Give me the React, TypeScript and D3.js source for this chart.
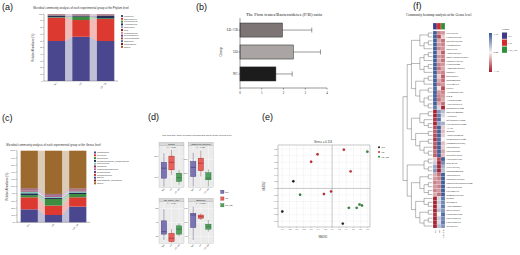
import React from "react";
import * as d3 from "d3";

const groups = ["NC", "LD", "LD_CB"];

// ---------- (a) phylum level ----------
const phyla = ["Firmicutes", "Bacteroidetes", "Proteobacteria", "Actinobacteria", "Tenericutes", "TM7", "Cyanobacteria", "Deferribacteres", "Verrucomicrobia", "Chloroflexi", "Spirochaetes", "Others"];
const phylaNC = [59.7, 34.8, 0.8, 2.2, 0.6, 0.4, 0.3, 0.2, 0.3, 0.2, 0.1, 0.4];
const phylaLD = [66.0, 25.0, 5.0, 1.2, 0.8, 0.5, 0.4, 0.3, 0.2, 0.2, 0.1, 0.3];
const phylaLDCB = [59.7, 32.8, 1.2, 3.3, 0.9, 0.6, 0.4, 0.3, 0.3, 0.2, 0.1, 0.2];
const phylaColors = ["#4b478e", "#dc3a30", "#3d8c3f", "#262c58", "#8b9cc9", "#8c2a2a", "#d98a9e", "#6a3d9a", "#b04a3a", "#4a5fa8", "#7a1c1c", "#a0522d"];

// ---------- (b) F/B ratio ----------
const fbGroups = ["LD+CB", "LD", "NC"];
const fbMean = [1.95, 2.45, 1.65];
const fbErr = [1.35, 1.25, 0.75];
const fbTicks = [0, 1, 2, 3, 4];

// ---------- (c) genus level ----------
const genusTop = ["Lactobacillus", "Prevotella", "Oscillospira", "Ruminococcaceae_Ruminococcus", "Coprococcus", "Roseburia", "Phascolarctobacterium", "Streptococcus", "[Ruminococcus]", "Blautia", "Clostridiaceae_Clostridium", "Others"];
const genusNC = [18.1, 16.8, 3.1, 2.5, 2.5, 1.2, 1.0, 0.8, 0.6, 0.5, 0.4, 52.5];
const genusLD = [10.2, 13.1, 9.3, 1.5, 1.2, 1.0, 1.3, 0.7, 0.5, 0.4, 0.4, 60.4];
const genusLDCB = [21.9, 13.0, 4.6, 2.0, 1.8, 1.2, 0.9, 0.6, 0.5, 0.3, 0.3, 52.9];
const genusColors = ["#4b478e", "#dc3a30", "#3d8c3f", "#262c58", "#7fc4b4", "#8c2340", "#b3669a", "#5c3c80", "#c0392b", "#3b4c9b", "#7a1c1c", "#9c6a2e"];

// ---------- (d) alpha diversity (min, q1, median, q3, max) ----------
const alphaIndices = ["Chao1", "Observed_species", "PD_whole_tree", "Shannon"];
const alphaDomains = [[500, 900], [400, 700], [30, 60], [4, 7]];
const alphaTicks = [[600, 800], [500, 600], [35, 45, 55], [4.5, 5.5, 6.5]];
const alphaNC = [[505, 588, 684, 740, 828], [406, 478, 544, 586, 649], [32.4, 36.6, 38.4, 46.2, 54.6], [4.24, 5.14, 6.04, 6.16, 6.64]];
const alphaLD = [[620, 668, 740, 800, 860], [478, 520, 574, 610, 664], [30.5, 31.2, 33.6, 37.2, 40.2], [5.68, 5.8, 5.92, 6.04, 6.16]];
const alphaLDCB = [[524, 556, 592, 636, 668], [406, 454, 466, 505, 529], [34.8, 36.6, 40.2, 42.6, 44.4], [4.84, 5.02, 5.2, 5.38, 5.68]];
const alphaP = ["p = 0.037", "p = 0.029", "p = 0.045", "p = 0.0065"];

// ---------- (e) NMDS ----------
const nmdsGroup = ["NC", "NC", "NC", "LD", "LD", "LD", "LD", "LD", "LD", "LD_CB", "LD_CB", "LD_CB", "LD_CB", "LD_CB", "LD_CB"];
const nmds1 = [-1.40, -1.09, 0.30, -0.41, -0.59, 0.33, 0.52, -0.23, -0.03, -0.90, 0.47, 0.69, 0.77, 0.84, 0.99];
const nmds2 = [-0.70, 0.22, -1.07, 1.04, 0.81, 1.18, 0.52, -0.17, -0.09, -0.19, -0.59, -0.59, -0.49, -0.52, 1.12];

// ---------- (f) heatmap ----------
const genera = ["Prevotella", "Coprococcus", "Streptococcus", "Lachnospira", "Sutterella", "Anaerostipes", "Macellibacteroides", "Paraprevotella", "Clostridium", "Aggregatibacter", "SMB53", "Roseburia", "Megamonas", "Veillonella", "Dorea", "Actinobacillus", "rc4-4", "Allobaculum", "Adlercreutzia", "Mogibacterium", "Butyricimonas", "Alistipes", "Bifidobacterium", "Corynebacterium", "AF12", "Blautia", "Anaerotruncus", "Dehalobacterium", "[Ruminococcus]", "Odoribacter", "Oscillospira", "Desulfovibrio", "Lactobacillus", "Rikenella", "[Prevotella]", "Sphingomonas", "Turicibacter", "Parabacteroides", "Phascolarctobacterium", "Enterococcus", "Collinsella", "Ruminococcus", "Rothia", "Bilophila", "Akkermansia", "Bacteroides", "Coprobacillus", "Oscillibacter", "Enterobacter", "Weissella"];
const hmNC = [1.1, 1.1, 1.1, 1.1, 1.1, 1.1, 1.1, 1.1, 1.1, 1.1, 1.1, 1.0, 1.1, 1.1, 1.0, 1.1, 1.1, 1.1, 1.1, 0.9, -1.1, -1.1, -1.0, -1.1, -0.9, -0.8, -0.9, -1.0, -0.8, -0.9, -0.7, -0.8, -0.2, 0.3, 0.6, 0.7, -0.4, -0.5, -0.6, -0.5, -0.6, -0.4, -1.1, -1.1, -1.1, -1.1, -1.0, -1.1, -1.1, -1.1];
const hmLD = [-0.6, -0.9, -0.4, -0.5, -0.6, -0.3, -0.5, -0.4, -0.6, -0.7, -0.5, -0.2, -0.4, -0.6, -0.1, -0.5, -0.6, -0.7, -0.4, 0.2, 0.7, 0.9, 1.0, 0.6, 1.1, 1.1, 1.1, 1.0, 1.1, 1.1, 1.1, 1.1, -0.9, -1.1, -1.1, -1.1, -0.7, -0.6, -0.5, -0.6, -0.5, -0.7, 0.2, 0.3, 0.2, 0.4, 0.0, 0.3, 0.2, 0.4];
const hmLDCB = [-0.5, -0.2, -0.7, -0.6, -0.5, -0.8, -0.6, -0.7, -0.5, -0.4, -0.6, -0.8, -0.7, -0.5, -0.9, -0.6, -0.5, -0.4, -0.7, -1.1, 0.4, 0.2, 0.0, 0.5, -0.2, -0.3, -0.2, 0.0, -0.3, -0.2, -0.4, -0.3, 1.1, 0.8, 0.5, 0.4, 1.1, 1.1, 1.1, 1.1, 1.1, 1.1, 0.9, 0.8, 0.9, 0.7, 1.0, 0.8, 0.9, 0.7];
const genusTree: any = [
  [
    [[[0, 1], [[2, 3], 4]], [[[5, 6], 7], [[8, 9], 10]], [[[11, 12], 13], [[14, 15], [[16, 17], [18, 19]]]]],
    [[[20, 21], [22, [23, 24]]], [[25, 26], [[27, 28], [29, [30, 31]]]]],
  ],
  [
    [[32, 33], [34, 35]],
    [[[36, 37], [[38, 39], [40, 41]]], [[42, [43, 44]], [[45, 46], [[47, 48], 49]]]],
  ],
];
const groupColors = ["#3f3a8c", "#d62a2a", "#2f8f3a"];

const SERIF = "Liberation Serif";
const SANS = "Liberation Sans";

function StackPanel(props: any) {
  const { keys, values, colors, left, right, top, bottom, title, pct, legendX, legendY, ylabelX } = props;
  const table = groups.map((g, i) => {
    const row: any = { group: g };
    keys.forEach((k: string, j: number) => (row[k] = values[i][j]));
    return row;
  });
  const series = d3.stack().keys(keys)(table);
  const x = d3.scaleBand().domain(groups).range([left, right]).paddingInner(0.29).paddingOuter(0.15);
  const y = d3.scaleLinear().domain([0, 100]).range([bottom, top]);
  const bw = x.bandwidth();
  return (
    <g fontFamily={SANS}>
      <text x={(left + right) / 2} y={top - 5} fontSize={2.8} textAnchor="middle" fill="#333">{title}</text>
      {series.map((s: any, si: number) => (
        <g key={si}>
          {[0, 1].map((i) => {
            const a = s[i], b = s[i + 1];
            const xa = x(groups[i])! + bw, xb = x(groups[i + 1])!;
            return (
              <path key={i} d={`M${xa},${y(a[1])}L${xb},${y(b[1])}L${xb},${y(b[0])}L${xa},${y(a[0])}Z`} fill={colors[si]} opacity={0.35} />
            );
          })}
          {s.map((d: any, i: number) => (
            <rect key={i} x={x(groups[i])} y={y(d[1])} width={bw} height={Math.max(0, y(d[0]) - y(d[1]))} fill={colors[si]} />
          ))}
        </g>
      ))}
      <line x1={left} x2={left} y1={top} y2={bottom} stroke="#555" strokeWidth={0.4} />
      <line x1={left} x2={right} y1={bottom} y2={bottom} stroke="#555" strokeWidth={0.4} />
      {y.ticks(10).map((t) => (
        <g key={t}>
          <line x1={left - 1} x2={left} y1={y(t)} y2={y(t)} stroke="#555" strokeWidth={0.3} />
          <text x={left - 1.5} y={y(t) + 0.7} fontSize={2.1} textAnchor="end" fill="#444">{pct ? `${t}%` : t}</text>
        </g>
      ))}
      {groups.map((g) => (
        <text key={g} transform={`translate(${x(g)! + bw / 2 + 1},${bottom + 2.5}) rotate(-45)`} fontSize={2.4} textAnchor="end" fill="#444">{g}</text>
      ))}
      <text transform={`translate(${ylabelX},${(top + bottom) / 2}) rotate(-90)`} fontSize={2.6} textAnchor="middle" fill="#333">Relative Abundance (%)</text>
      {keys.map((k: string, i: number) => (
        <g key={k}>
          <rect x={legendX} y={legendY + i * 2.8} width={2} height={2} fill={colors[i]} />
          <text x={legendX + 3} y={legendY + i * 2.8 + 1.7} fontSize={2.1} fill="#333">{k}</text>
        </g>
      ))}
    </g>
  );
}

function PanelB() {
  const x = d3.scaleLinear().domain([0, 4]).range([240, 327]);
  const y = d3.scaleBand().domain(fbGroups).range([16, 88]).paddingInner(0.36).paddingOuter(0.32);
  const fills = ["#7d7575", "#aaa4a4", "#1c1c1c"];
  const bw = y.bandwidth();
  return (
    <g fontFamily={SERIF} fill="#222">
      <text x={284} y={15.5} fontSize={4.6} textAnchor="middle">The Firm icutes/Bacteroidetes (F/B) ratio</text>
      {fbGroups.map((g, i) => {
        const y0 = y(g)!, cy = y0 + bw / 2;
        const xe = x(fbMean[i] + fbErr[i]);
        return (
          <g key={g}>
            <line x1={x(fbMean[i])} x2={xe} y1={cy} y2={cy} stroke="#555" strokeWidth={0.6} />
            <line x1={xe} x2={xe} y1={cy - 2.5} y2={cy + 2.5} stroke="#555" strokeWidth={0.6} />
            <rect x={x(0)} y={y0} width={x(fbMean[i]) - x(0)} height={bw} fill={fills[i]} stroke="#222" strokeWidth={0.5} />
            <line x1={x(0) - 1.5} x2={x(0)} y1={cy} y2={cy} stroke="#333" strokeWidth={0.5} />
            <text x={x(0) - 2.3} y={cy + 1.2} fontSize={3.4} textAnchor="end">{g}</text>
          </g>
        );
      })}
      <line x1={x(0)} x2={x(0)} y1={18} y2={88} stroke="#333" strokeWidth={0.5} />
      <line x1={x(0)} x2={x(4)} y1={88} y2={88} stroke="#333" strokeWidth={0.5} />
      {fbTicks.map((t) => (
        <g key={t}>
          <line x1={x(t)} x2={x(t)} y1={88} y2={89.5} stroke="#333" strokeWidth={0.5} />
          <text x={x(t)} y={93.5} fontSize={3.2} textAnchor="middle">{t}</text>
        </g>
      ))}
      <text transform="translate(222,52) rotate(-90)" fontSize={3.6} textAnchor="middle">Group</text>
    </g>
  );
}

function PanelD() {
  const facetCols = [159, 188.3];
  const facetRows = [142.3, 198.3];
  const facetW = 25, stripH = 3.4, panelH = 41.6;
  const fills = ["#7b74b3", "#e8605a", "#52a060"];
  const strokes = ["#3d3870", "#9a2a26", "#2a6a34"];
  const stats = [alphaNC, alphaLD, alphaLDCB];
  return (
    <g fontFamily={SANS}>
      <text x={197} y={136} fontSize={2.4} textAnchor="middle" fill="#333">The diversity index of each experimental group at the Genus level</text>
      {alphaIndices.map((name, k) => {
        const fx = facetCols[k % 2], fy = facetRows[Math.floor(k / 2)];
        const py0 = fy + stripH, py1 = py0 + panelH;
        const y = d3.scaleLinear().domain(alphaDomains[k]).range([py1, py0]);
        const x = d3.scaleBand().domain(groups).range([fx, fx + facetW]).padding(0.3);
        const bw = x.bandwidth();
        return (
          <g key={name}>
            <rect x={fx} y={fy} width={facetW} height={stripH} fill="#d9d9d9" stroke="#888" strokeWidth={0.2} />
            <text x={fx + facetW / 2} y={fy + 2.5} fontSize={2.3} textAnchor="middle" fill="#222">{name}</text>
            <rect x={fx} y={py0} width={facetW} height={panelH} fill="#ebebeb" stroke="#888" strokeWidth={0.2} />
            {alphaTicks[k].map((t) => (
              <g key={t}>
                <line x1={fx} x2={fx + facetW} y1={y(t)} y2={y(t)} stroke="#fff" strokeWidth={0.4} />
                <line x1={fx - 0.8} x2={fx} y1={y(t)} y2={y(t)} stroke="#555" strokeWidth={0.3} />
                <text x={fx - 1.2} y={y(t) + 0.7} fontSize={2} textAnchor="end" fill="#444">{t}</text>
              </g>
            ))}
            {groups.map((g) => (
              <line key={g} x1={x(g)! + bw / 2} x2={x(g)! + bw / 2} y1={py0} y2={py1} stroke="#fff" strokeWidth={0.4} />
            ))}
            <text x={fx + facetW / 2} y={py0 + 2.6} fontSize={2} textAnchor="middle" fill="#333">{alphaP[k]}</text>
            {groups.map((g, gi) => {
              const s = stats[gi][k];
              const cx = x(g)! + bw / 2;
              return (
                <g key={g}>
                  <line x1={cx} x2={cx} y1={y(s[0])} y2={y(s[4])} stroke={strokes[gi]} strokeWidth={0.4} />
                  <rect x={x(g)} y={y(s[3])} width={bw} height={y(s[1]) - y(s[3])} fill={fills[gi]} stroke={strokes[gi]} strokeWidth={0.4} />
                  <line x1={x(g)} x2={x(g)! + bw} y1={y(s[2])} y2={y(s[2])} stroke={strokes[gi]} strokeWidth={0.6} />
                  <text transform={`translate(${cx + 0.8},${py1 + 1.8}) rotate(-45)`} fontSize={2} textAnchor="end" fill="#444">{g}</text>
                </g>
              );
            })}
          </g>
        );
      })}
      {groups.map((g, i) => (
        <g key={g}>
          <rect x={220.7} y={190.2 + i * 6.7} width={3.3} height={3.3} fill={fills[i]} stroke={strokes[i]} strokeWidth={0.3} />
          <text x={225.3} y={192.6 + i * 6.7} fontSize={2.2} fill="#333">{g}</text>
        </g>
      ))}
    </g>
  );
}

function PanelE() {
  const x = d3.scaleLinear().domain([-1.4, 1.0]).range([282.3, 367.7]);
  const y = d3.scaleLinear().domain([-1.0, 1.2]).range([221.3, 149]);
  const fx0 = 278, fx1 = 370, fy0 = 145, fy1 = 227;
  const color: any = { NC: "#1a1a1a", LD: "#d62728", LD_CB: "#2e8b3a" };
  const fmt = d3.format(".1f");
  return (
    <g fontFamily={SANS}>
      <text x={323} y={143.4} fontSize={2.8} textAnchor="middle" fill="#333">Stress = 0.153</text>
      <rect x={fx0} y={fy0} width={fx1 - fx0} height={fy1 - fy0} fill="#fff" stroke="#777" strokeWidth={0.4} />
      {x.ticks(12).map((t) => (
        <g key={"x" + t}>
          <line x1={x(t)} x2={x(t)} y1={fy0} y2={fy1} stroke="#ccc" strokeWidth={0.3} strokeDasharray="0.8,0.8" />
          <line x1={x(t)} x2={x(t)} y1={fy1} y2={fy1 + 0.8} stroke="#555" strokeWidth={0.3} />
          <text x={x(t)} y={fy1 + 3.2} fontSize={1.9} textAnchor="middle" fill="#444">{fmt(t)}</text>
        </g>
      ))}
      {y.ticks(11).map((t) => (
        <g key={"y" + t}>
          <line x1={fx0} x2={fx1} y1={y(t)} y2={y(t)} stroke="#ccc" strokeWidth={0.3} strokeDasharray="0.8,0.8" />
          <line x1={fx0 - 0.8} x2={fx0} y1={y(t)} y2={y(t)} stroke="#555" strokeWidth={0.3} />
          <text x={fx0 - 1.2} y={y(t) + 0.6} fontSize={1.9} textAnchor="end" fill="#444">{fmt(t)}</text>
        </g>
      ))}
      <line x1={x(0)} x2={x(0)} y1={fy0} y2={fy1} stroke="#999" strokeWidth={0.5} />
      <line x1={fx0} x2={fx1} y1={y(0)} y2={y(0)} stroke="#999" strokeWidth={0.5} />
      {nmds1.map((v, i) => (
        <circle key={i} cx={x(v)} cy={y(nmds2[i])} r={1.2} fill={color[nmdsGroup[i]]} stroke="#333" strokeWidth={0.2} />
      ))}
      <text x={323} y={237.5} fontSize={2.6} textAnchor="middle" fill="#333">NMDS1</text>
      <text transform="translate(265,186) rotate(-90)" fontSize={2.6} textAnchor="middle" fill="#333">NMDS2</text>
      {groups.map((g, i) => (
        <g key={g}>
          <circle cx={379} cy={147.3 + i * 4.7} r={1} fill={color[g]} />
          <text x={381.5} y={148.2 + i * 4.7} fontSize={2.3} fill="#333">{g}</text>
        </g>
      ))}
    </g>
  );
}

function PanelF() {
  const rowY = d3.scaleBand().domain(genera).range([31, 228]);
  const colX = d3.scaleBand().domain(groups).range([433, 445]);
  const color = d3.scaleLinear<string>().domain([-1.15, 0, 1.15]).range(["#a51c2c", "#f7f4f4", "#3a5a98"]);
  const cols = [hmNC, hmLD, hmLDCB];
  const root: any = d3.hierarchy(genusTree, (d: any) => (Array.isArray(d) ? d : null));
  const dx = d3.scaleLinear().domain([root.height, 0]).range([403, 432.5]);
  root.eachAfter((n: any) => {
    if (!n.children) n.py = rowY(genera[n.data])! + rowY.bandwidth() / 2;
    else n.py = (n.children[0].py + n.children[n.children.length - 1].py) / 2;
  });
  const links: any[] = [];
  root.each((n: any) => {
    if (n.children) {
      links.push({ x1: dx(n.height), x2: dx(n.height), y1: n.children[0].py, y2: n.children[n.children.length - 1].py });
      n.children.forEach((c: any) => links.push({ x1: dx(n.height), x2: dx(c.height), y1: c.py, y2: c.py }));
    }
  });
  return (
    <g fontFamily={SERIF}>
      <text x={406} y={16} fontSize={3.4} fill="#222">Community heatmap analysis at the Genus level</text>
      {links.map((l, i) => (
        <line key={i} x1={l.x1} x2={l.x2} y1={l.y1} y2={l.y2} stroke="#333" strokeWidth={0.35} />
      ))}
      {groups.map((g, gi) => (
        <rect key={g} x={colX(g)} y={23} width={colX.bandwidth()} height={6.5} fill={groupColors[gi]} stroke="#fff" strokeWidth={0.2} />
      ))}
      {genera.map((name, r) => (
        <g key={name}>
          {groups.map((g, gi) => (
            <rect key={g} x={colX(g)} y={rowY(name)} width={colX.bandwidth()} height={rowY.bandwidth()} fill={color(cols[gi][r])} stroke="#fff" strokeWidth={0.15} />
          ))}
          <text x={446.2} y={rowY(name)! + rowY.bandwidth() / 2 + 1} fontSize={2.9} fill="#222">{name}</text>
        </g>
      ))}
      {groups.map((g) => (
        <text key={g} transform={`translate(${colX(g)! + colX.bandwidth() / 2 + 1},229.5) rotate(-90)`} fontSize={2.6} textAnchor="end" fill="#222">{g}</text>
      ))}
      <defs>
        <linearGradient id="hmgrad" x1="0" y1="0" x2="0" y2="1">
          <stop offset="0%" stopColor={color(1.15)} />
          <stop offset="50%" stopColor={color(0)} />
          <stop offset="100%" stopColor={color(-1.15)} />
        </linearGradient>
      </defs>
      <rect x={489} y={33} width={3} height={39} fill="url(#hmgrad)" />
      <text x={493.5} y={34.5} fontSize={2.6} fill="#222">1.15</text>
      <text x={493.5} y={53.4} fontSize={2.6} fill="#222">0.00</text>
      <text x={493.5} y={72.3} fontSize={2.6} fill="#222">-1.15</text>
      <text x={502} y={30} fontSize={2.8} fill="#222">Group</text>
      {groups.map((g, i) => (
        <g key={g}>
          <rect x={502} y={32.5 + i * 7} width={5} height={6.3} fill={groupColors[i]} />
          <text x={508.3} y={36.7 + i * 7} fontSize={2.8} fill="#222">{g}</text>
        </g>
      ))}
    </g>
  );
}

export default function App() {
  return (
    <div style={{ position: "absolute", left: 0, top: 0 }}>
      <svg width={520} height={255} viewBox="0 0 520 255" style={{ display: "block", background: "#fff" }}>
        <rect width={520} height={255} fill="#fff" />
        <StackPanel
          keys={phyla}
          values={[phylaNC, phylaLD, phylaLDCB]}
          colors={phylaColors}
          left={44}
          right={118}
          top={14}
          bottom={81}
          title="Microbial community analysis of each experimental group at the Phylum level"
          pct={false}
          legendX={121}
          legendY={15}
          ylabelX={34}
        />
        <StackPanel
          keys={genusTop}
          values={[genusNC, genusLD, genusLDCB]}
          colors={genusColors}
          left={17}
          right={90}
          top={150.7}
          bottom={222.3}
          title="Microbial community analysis of each experimental group at the Genus level"
          pct={true}
          legendX={94}
          legendY={151.5}
          ylabelX={8}
        />
        <PanelB />
        <PanelD />
        <PanelE />
        <PanelF />
        <g fontFamily={SANS} fontSize={9} fill="#111">
          <text x={2} y={10}>(a)</text>
          <text x={196} y={9.5}>(b)</text>
          <text x={2} y={121}>(c)</text>
          <text x={148} y={119.5}>(d)</text>
          <text x={262} y={120}>(e)</text>
          <text x={413} y={9}>(f)</text>
        </g>
      </svg>
    </div>
  );
}
